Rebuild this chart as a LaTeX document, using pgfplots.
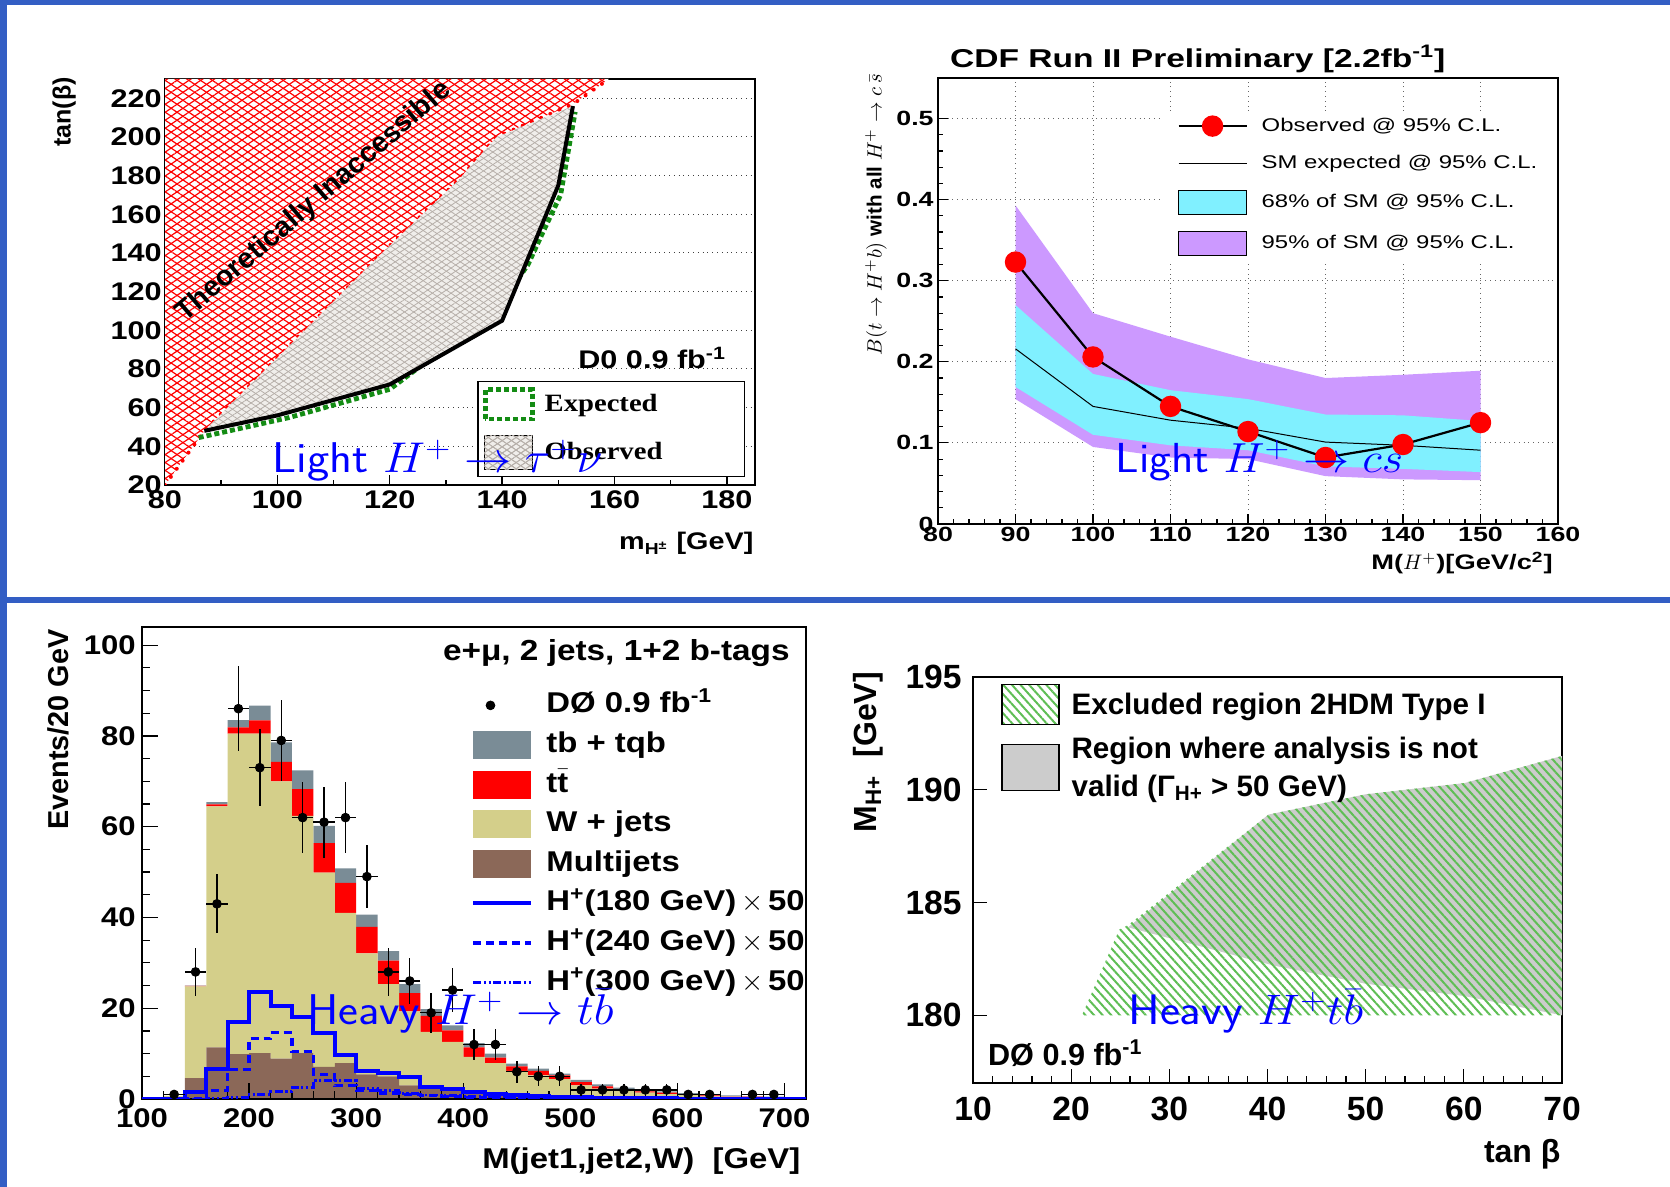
\RequirePackage{fix-cm}
\documentclass[border=0pt]{standalone}
\usepackage[no-math]{fontspec}
\setmainfont{Liberation Sans}
\newfontfamily\fA{Liberation Sans}[FakeStretch=1.2]
\newfontfamily\fB{Liberation Sans}[FakeStretch=1.3]
\newfontfamily\fC{Liberation Sans}[FakeStretch=1.15]
\newfontfamily\fD{Liberation Sans}
\newfontfamily\fAs{Liberation Serif}[FakeStretch=1.15]
\usepackage{graphicx}
\usepackage{pgfplots}
\pgfplotsset{compat=1.18}
\usepackage{pgfplotstable}
\usetikzlibrary{patterns.meta}

\definecolor{frameblue}{RGB}{51,94,196}
\definecolor{tbgray}{RGB}{122,140,150}
\definecolor{wtan}{RGB}{212,207,138}
\definecolor{mjbrown}{RGB}{139,104,88}
\definecolor{cdfcyan}{RGB}{128,240,255}
\definecolor{cdfpurple}{RGB}{204,153,255}
\definecolor{expgreen}{RGB}{20,140,20}
\definecolor{hatchgreen}{RGB}{95,190,85}
\definecolor{hatchgray}{RGB}{182,175,169}
\definecolor{obsbg}{RGB}{240,238,235}
\definecolor{regiongray}{RGB}{204,204,204}

\tikzset{
 redx/.style={fill=white,
   postaction={pattern={Lines[angle=34,distance=3.3pt,line width=0.6pt]},pattern color=red},
   postaction={pattern={Lines[angle=-34,distance=3.3pt,line width=0.6pt]},pattern color=red}},
 grayx/.style={fill=obsbg,
   postaction={pattern={Lines[angle=34,distance=2.6pt,line width=0.4pt]},pattern color=hatchgray},
   postaction={pattern={Lines[angle=-34,distance=2.6pt,line width=0.4pt]},pattern color=hatchgray}},
 greenh/.style={pattern={Lines[angle=-48,distance=3.2pt,line width=1pt]},pattern color=hatchgreen},
}

% panel 3 background stack (bin centres)
\pgfplotstableread{
c mj wj tt tb
130 0.2 0.5 0.0 0.0
150 4.6 20.2 0.1 0.1
170 11.4 53.1 0.4 0.5
190 9.9 70.6 1.4 1.6
210 10.1 70.4 2.9 3.3
230 8.9 61.1 4.3 4.3
250 10.1 52.3 5.9 4.1
270 7.1 42.8 6.5 3.8
290 7.9 33.1 6.6 3.2
310 5.4 26.7 5.8 2.7
330 5.0 20.3 5.2 2.1
350 3.0 16.3 4.0 2.0
370 2.3 12.5 3.5 1.5
390 2.1 10.5 2.5 1.1
410 1.6 7.7 2.1 0.9
430 1.1 6.8 1.2 0.9
450 0.9 5.3 1.0 0.6
470 0.7 4.5 1.0 0.5
490 0.6 3.8 0.8 0.4
510 0.4 2.6 0.7 0.5
530 0.3 2.0 0.5 0.4
550 0.3 1.5 0.4 0.3
570 0.2 1.2 0.3 0.3
590 0.2 0.9 0.3 0.3
610 0.1 0.8 0.2 0.2
630 0.1 0.5 0.2 0.2
650 0.1 0.4 0.1 0.2
670 0.1 0.3 0.1 0.1
690 0.1 0.2 0.1 0.1
710 0.0 0.2 0.1 0.1
}\bkg

% panel 3 signals (left bin edges)
\pgfplotstableread{
x h180 h240 h300
100 0 0 0
120 0 0 0
140 1.6 0.1 0
160 6.7 1.9 0.1
180 17 6.5 0.3
200 23.6 13.3 1.0
220 20.4 14.6 1.6
240 18.1 10.4 2.5
260 14.6 5.4 4.0
280 9.7 2.9 4.0
300 6.2 1.9 2.4
320 5.7 1.3 1.8
340 4.8 1.0 1.2
360 2.7 0.7 0.9
380 2.2 0.5 0.7
400 1.6 0.4 0.6
420 1.2 0.3 0.5
440 0.9 0.3 0.4
460 0.7 0.2 0.4
480 0.5 0.2 0.3
500 0.4 0.1 0.3
520 0.3 0.1 0.2
540 0.3 0.1 0.2
560 0.2 0.1 0.1
580 0.2 0 0.1
600 0.1 0 0.1
620 0.1 0 0
640 0.1 0 0
660 0.1 0 0
680 0 0 0
700 0 0 0
720 0 0 0
}\sig

% panel 3 data
\pgfplotstableread{
x y ex ey
130 1 10 1
150 28 10 5.3
170 43 10 6.5
190 86 10 9.3
210 73 10 8.5
230 79 10 8.9
250 62 10 7.9
270 61 10 7.8
290 62 10 7.9
310 49 10 7
330 28 10 5.3
350 26 10 5.1
370 19 10 4.4
390 24 10 4.9
410 12 10 3.5
430 12 10 3.5
450 6 10 2.4
470 5 10 2.2
490 5 10 2.2
510 2 10 1.4
530 2 10 1.4
550 2 10 1.4
570 2 10 1.4
590 2 10 1.4
610 1 10 1
630 1 10 1
670 1 10 1
690 1 10 1
}\dat

\begin{document}
\begin{tikzpicture}
\path[use as bounding box] (0,0) rectangle (835pt,593.5pt);
\fill[frameblue] (0,0) rectangle (3.7pt,593.5pt);
\fill[frameblue] (0,591pt) rectangle (835pt,593.5pt);
\fill[frameblue] (0,292.2pt) rectangle (835pt,295.2pt);

%================ Panel 1 =================
\begin{axis}[
 at={(82.5pt,351pt)}, anchor=south west, scale only axis, width=295pt, height=203pt,
 xmin=80, xmax=185, ymin=20, ymax=230,
 xtick={80,100,120,140,160,180}, minor x tick num=1,
 ytick={20,40,...,220}, minor y tick num=3,
 tick align=inside, xtick pos=bottom, ytick pos=left,
 major tick length=5pt, minor tick length=2.5pt,
 every tick/.style={black, line width=0.7pt},
 axis line style={black, line width=1pt},
 ymajorgrids, major grid style={black!75, dotted, line width=0.5pt},
 /pgf/number format/assume math mode=true,
 ticklabel style={font=\fA\bfseries\fontsize{12.75}{14}\selectfont},
 yticklabel style={inner xsep=0pt, xshift=-1.5pt},
 xticklabel style={inner ysep=0pt, yshift=-2.5pt},
 clip mode=individual,
 xlabel={m\textsubscript{H\textsuperscript{±}} [GeV]},
 xlabel style={at={(axis description cs:0.998,-0.16)}, anchor=base east, inner sep=0pt, font=\fA\bfseries\fontsize{12}{14}\selectfont},
 ylabel={tan(β)},
 ylabel style={at={(axis description cs:-0.171,0.919)}, anchor=center, inner sep=0pt, font=\fD\bfseries\fontsize{12.5}{14}\selectfont},
 legend cell align=left,
 legend style={at={(0.529,0.019)}, anchor=south west, draw=black, line width=0.8pt, fill=white,
   inner xsep=2.5pt, inner ysep=3pt, row sep=6.8pt, column sep=4pt,
   font=\fAs\bfseries\fontsize{12.45}{14}\selectfont, nodes={inner sep=1pt}},
]
\addplot[draw=none, redx, forget plot] coordinates {(80,20)(87,48)(119,141)(132,177)(139,200)(152.6,217)(159,230)(80,230)} --cycle;
\addplot[red, line width=2pt, line cap=round, dash pattern=on 0pt off 5pt, forget plot] coordinates {(80,20)(87,48)(119,141)(132,177)(139,200)(152.6,217)(159,230)};
\addplot[expgreen, line width=2.4pt, dash pattern=on 2.5pt off 1.5pt,
  legend image code/.code={\draw[expgreen, line width=2.4pt, dash pattern=on 2.5pt off 1.5pt] (1pt,-7.3pt) rectangle (24.5pt,7.3pt);}]
  coordinates {(86,44.5)(102,54.8)(120,69.5)(139.3,111.8)(144.6,134)(147.3,151)(150.4,170)(153,213)};
\addlegendentry{Expected\hspace*{40pt}}
\addplot[draw=none, grayx,
  legend image code/.code={\draw[black, line width=0.7pt, grayx] (0.5pt,-8.5pt) rectangle (24.5pt,8.5pt);}]
  coordinates {(87,48)(100,56)(120,72)(140,105)(150,175)(152.6,216)(139,200)(132,177)(119,141)(87,48)} --cycle;
\addlegendentry{Observed}
\addplot[black, line width=2pt, forget plot] coordinates {(87,48)(100,56)(120,72)(140,105)(150,175)(152.6,216)};
\node[anchor=base west, inner sep=0pt, font=\fA\bfseries\fontsize{12.75}{14}\selectfont] at (rel axis cs:0.7,0.287) {D0 0.9 fb\textsuperscript{-1}};
\node[rotate=40.8, inner sep=0pt, font=\fD\bfseries\fontsize{14.2}{16}\selectfont] at (rel axis cs:0.2525,0.697) {Theoretically Inaccessible};
\end{axis}
\node[anchor=base west, inner sep=0pt, text=blue] at (136pt,357pt) {\scalebox{1.1}[1]{\sffamily\fontsize{21.5}{26}\selectfont Light $H^{+}\rightarrow\tau^{+}\nu$}};

%================ Panel 2 =================
\begin{axis}[
 at={(469pt,331.5pt)}, anchor=south west, scale only axis, width=310pt, height=223pt,
 xmin=80, xmax=160, ymin=0, ymax=0.55,
 xtick={80,90,...,160}, minor x tick num=4,
 ytick={0,0.1,0.2,0.3,0.4,0.5}, minor y tick num=4, scaled y ticks=false,
 tick align=inside, xtick pos=bottom, ytick pos=left,
 major tick length=5pt, minor tick length=2.5pt,
 every tick/.style={black, line width=0.6pt},
 axis line style={black, line width=0.8pt},
 grid=major, major grid style={black!60, dotted, line width=0.5pt},
 /pgf/number format/assume math mode=true,
 ticklabel style={font=\fB\bfseries\fontsize{10.3}{12}\selectfont},
 yticklabel style={inner xsep=0pt, xshift=-2pt},
 xticklabel style={inner ysep=0pt, yshift=-1.5pt},
 clip mode=individual,
 every axis title shift=0pt,
 title={CDF Run II Preliminary [2.2fb\textsuperscript{-1}]},
 title style={at={(axis description cs:0.419,1.043)}, anchor=center, inner sep=0pt, font=\fB\bfseries\fontsize{12.9}{14}\selectfont},
 xlabel={M($H^{+}$)[GeV/c\textsuperscript{2}]},
 xlabel style={at={(axis description cs:0.992,-0.103)}, anchor=base east, inner sep=0pt, font=\fB\bfseries\fontsize{10.5}{12}\selectfont},
 ylabel={$B(t\rightarrow H^{+}b)$ \textbf{with all} $H^{+}\rightarrow c\,\bar{s}$},
 ylabel style={at={(axis description cs:-0.1,0.693)}, anchor=center, inner sep=0pt, font=\fD\fontsize{10.3}{12}\selectfont},
 reverse legend, legend cell align=left,
 legend style={at={(0.363,0.926)}, anchor=north west, draw=none, fill=white,
   inner xsep=7pt, inner ysep=2pt, row sep=8.1pt, column sep=6pt,
   font=\fB\fontsize{9.2}{11}\selectfont, nodes={inner sep=1pt}},
]
\addplot[draw=none, fill=cdfpurple,
  legend image code/.code={\draw[black, fill=cdfpurple, line width=0.6pt] (0pt,-6pt) rectangle (34pt,6pt);}]
  coordinates {(90,0.393)(100,0.260)(110,0.231)(120,0.203)(130,0.180)(140,0.184)(150,0.189)
               (150,0.054)(140,0.055)(130,0.059)(120,0.080)(110,0.082)(100,0.095)(90,0.154)} --cycle;
\addlegendentry{95\% of SM @ 95\% C.L.}
\addplot[draw=none, fill=cdfcyan,
  legend image code/.code={\draw[black, fill=cdfcyan, line width=0.6pt] (0pt,-6pt) rectangle (34pt,6pt);}]
  coordinates {(90,0.270)(100,0.185)(110,0.165)(120,0.154)(130,0.135)(140,0.134)(150,0.127)
               (150,0.064)(140,0.068)(130,0.071)(120,0.091)(110,0.097)(100,0.110)(90,0.169)} --cycle;
\addlegendentry{68\% of SM @ 95\% C.L.}
\addplot[black, line width=0.5pt,
  legend image code/.code={\draw[black, line width=0.5pt] (0pt,0pt) -- (34pt,0pt);}]
  coordinates {(90,0.216)(100,0.145)(110,0.128)(120,0.118)(130,0.101)(140,0.097)(150,0.091)};
\addlegendentry{SM expected @ 95\% C.L.}
\addplot[black, line width=1.1pt, mark=*, mark size=4.8pt, mark options={fill=red, draw=red},
  legend image code/.code={\draw[black, line width=1.1pt] (0pt,0pt) -- (34pt,0pt); \fill[red] (17pt,0pt) circle (4.8pt);}]
  coordinates {(90,0.323)(100,0.206)(110,0.145)(120,0.114)(130,0.082)(140,0.098)(150,0.125)};
\addlegendentry{Observed @ 95\% C.L.}
\end{axis}
\node[anchor=base west, inner sep=0pt, text=blue] at (557.6pt,357pt) {\scalebox{1.1}[1]{\sffamily\fontsize{21}{26}\selectfont Light $H^{+}\rightarrow cs$}};

%================ Panel 3 =================
\begin{axis}[
 at={(71pt,44pt)}, anchor=south west, scale only axis, width=332pt, height=236pt,
 xmin=100, xmax=720, ymin=0, ymax=104,
 ybar stacked, bar width=20,
 xtick={100,200,...,700}, minor x tick num=4,
 ytick={0,20,...,100}, minor y tick num=3,
 tick align=inside, xtick pos=bottom, ytick pos=left,
 major tick length=8pt, minor tick length=4pt,
 every tick/.style={black, line width=0.6pt},
 axis line style={black, line width=0.8pt},
 axis on top,
 /pgf/number format/assume math mode=true,
 ticklabel style={font=\fC\bfseries\fontsize{13.5}{15}\selectfont},
 yticklabel style={inner xsep=0pt, xshift=-3pt},
 xticklabel style={inner ysep=0pt, yshift=-4.5pt},
 xlabel={M(jet1,jet2,W)\ \ [GeV]},
 xlabel style={at={(axis description cs:0.992,-0.147)}, anchor=base east, inner sep=0pt, font=\fC\bfseries\fontsize{14.3}{16}\selectfont},
 ylabel={Events/20 GeV},
 ylabel style={at={(axis description cs:-0.126,0.783)}, anchor=center, inner sep=0pt, font=\fD\bfseries\fontsize{14.4}{16}\selectfont},
]
\addplot[fill=mjbrown, draw=none] table[x=c,y=mj]{\bkg};
\addplot[fill=wtan, draw=none] table[x=c,y=wj]{\bkg};
\addplot[fill=red, draw=none] table[x=c,y=tt]{\bkg};
\addplot[fill=tbgray, draw=none] table[x=c,y=tb]{\bkg};
\node[anchor=base east, inner sep=0pt, font=\fC\bfseries\fontsize{14.5}{16}\selectfont] at (rel axis cs:0.976,0.930) {e+μ, 2 jets, 1+2 b-tags};
\end{axis}
\begin{axis}[
 at={(71pt,44pt)}, anchor=south west, scale only axis, width=332pt, height=236pt,
 xmin=100, xmax=720, ymin=0, ymax=104, hide axis, clip mode=individual,
 reverse legend, legend cell align=left,
 legend style={at={(0.4955,0.8697)}, anchor=north west, draw=none, fill=none, inner sep=0pt,
   row sep=3.3pt, column sep=5.5pt, font=\fC\bfseries\fontsize{14.3}{16}\selectfont,
   nodes={inner sep=1pt, text height=11pt, text depth=3.5pt}},
]
\addplot[blue, line width=1.4pt, const plot, dash pattern=on 4pt off 1.2pt on 1.2pt off 1.2pt on 1.2pt off 1.2pt,
  legend image code/.code={\draw (0pt,0pt) -- (29pt,0pt);}] table[x=x,y=h300]{\sig};
\addlegendentry{H\textsuperscript{+}(300 GeV)\,$\times$\,50}
\addplot[blue, line width=1.6pt, const plot, dash pattern=on 4pt off 2.5pt,
  legend image code/.code={\draw (0pt,0pt) -- (29pt,0pt);}] table[x=x,y=h240]{\sig};
\addlegendentry{H\textsuperscript{+}(240 GeV)\,$\times$\,50}
\addplot[blue, line width=2pt, const plot,
  legend image code/.code={\draw (0pt,0pt) -- (29pt,0pt);}] table[x=x,y=h180]{\sig};
\addlegendentry{H\textsuperscript{+}(180 GeV)\,$\times$\,50}
\addlegendimage{fill=mjbrown, draw=none, legend image code/.code={\fill (0pt,-7pt) rectangle (29pt,7pt);}}
\addlegendentry{Multijets}
\addlegendimage{fill=wtan, draw=none, legend image code/.code={\fill (0pt,-7pt) rectangle (29pt,7pt);}}
\addlegendentry{W + jets}
\addlegendimage{fill=red, draw=none, legend image code/.code={\fill (0pt,-7pt) rectangle (29pt,7pt);}}
\addlegendentry{t\ensuremath{\bar{\hbox{t}}}}
\addlegendimage{fill=tbgray, draw=none, legend image code/.code={\fill (0pt,-7pt) rectangle (29pt,7pt);}}
\addlegendentry{tb + tqb}
\addplot[black, only marks, mark=*, mark size=2.2pt,
  error bars/.cd, x dir=both, x explicit, y dir=both, y explicit,
  error bar style={line width=0.7pt, black}, error mark=none]
  table[x=x, y=y, x error=ex, y error=ey]{\dat};
\addlegendentry{DØ 0.9 fb\textsuperscript{-1}}
\end{axis}
\node[anchor=base west, inner sep=0pt, text=blue] at (153.3pt,81pt) {\scalebox{1.1}[1]{\sffamily\fontsize{21.5}{26}\selectfont Heavy $H^{+}\rightarrow t\bar{b}$}};

%================ Panel 4 =================
\begin{axis}[
 at={(486.5pt,52pt)}, anchor=south west, scale only axis, width=294.5pt, height=203pt,
 xmin=10, xmax=70, ymin=177, ymax=195,
 xtick={10,20,...,70}, minor x tick num=4,
 ytick={180,185,190,195},
 tick align=inside, xtick pos=bottom, ytick pos=left,
 major tick length=7pt, minor tick length=3.5pt,
 every tick/.style={black, line width=0.6pt},
 axis line style={black, line width=0.8pt},
 /pgf/number format/assume math mode=true,
 ticklabel style={font=\fD\bfseries\fontsize{16.8}{18}\selectfont},
 yticklabel style={inner xsep=0pt, xshift=-5.5pt},
 xticklabel style={inner ysep=0pt, yshift=-7pt},
 clip mode=individual,
 xlabel={tan β},
 xlabel style={at={(axis description cs:0.998,-0.197)}, anchor=base east, inner sep=0pt, font=\fD\bfseries\fontsize{16}{18}\selectfont},
 ylabel={M\textsubscript{H+}\ \ [GeV]},
 ylabel style={at={(axis description cs:-0.178,0.815)}, anchor=center, inner sep=0pt, font=\fD\bfseries\fontsize{16}{18}\selectfont},
 reverse legend, legend cell align=left,
 legend style={at={(0.0475,0.983)}, anchor=north west, draw=none, fill=none, inner sep=0pt,
   row sep=2pt, column sep=5pt, font=\fD\bfseries\fontsize{14.8}{19}\selectfont, nodes={inner sep=1pt}},
]
\addplot[fill=regiongray, draw=none,
  legend image code/.code={\draw[black, line width=0.6pt, fill=regiongray] (0pt,-17.5pt) rectangle (28.5pt,5.5pt);}]
  coordinates {(25.8,183.9)(40.1,188.9)(50,189.8)(60.1,190.3)(70,191.5)(70,180)(60.1,180.85)(50,181.4)(40.7,182.2)(25.8,183.9)} --cycle;
\addlegendentry{\begin{tabular}{@{}l@{}}Region where analysis is not\\valid (Γ\textsubscript{H+} > 50 GeV)\end{tabular}}
\addplot[draw=none, greenh,
  legend image code/.code={\draw[black, line width=0.6pt, greenh] (0pt,-10pt) rectangle (28.5pt,10pt);}]
  coordinates {(21.1,180)(24.9,183.8)(25.8,184.0)(40.1,188.9)(50,189.8)(60.1,190.3)(70,191.5)(70,180)} --cycle;
\addlegendentry{Excluded region 2HDM Type I}
\node[anchor=base west, inner sep=0pt, font=\fD\bfseries\fontsize{15.3}{17}\selectfont] at (rel axis cs:0.025,0.044) {DØ 0.9 fb\textsuperscript{-1}};
\end{axis}
\node[anchor=base west, inner sep=0pt, text=blue] at (564pt,81pt) {\scalebox{1.12}[1]{\sffamily\fontsize{21.3}{26}\selectfont Heavy $H^{+}t\bar{b}$}};
\end{tikzpicture}
\end{document}
